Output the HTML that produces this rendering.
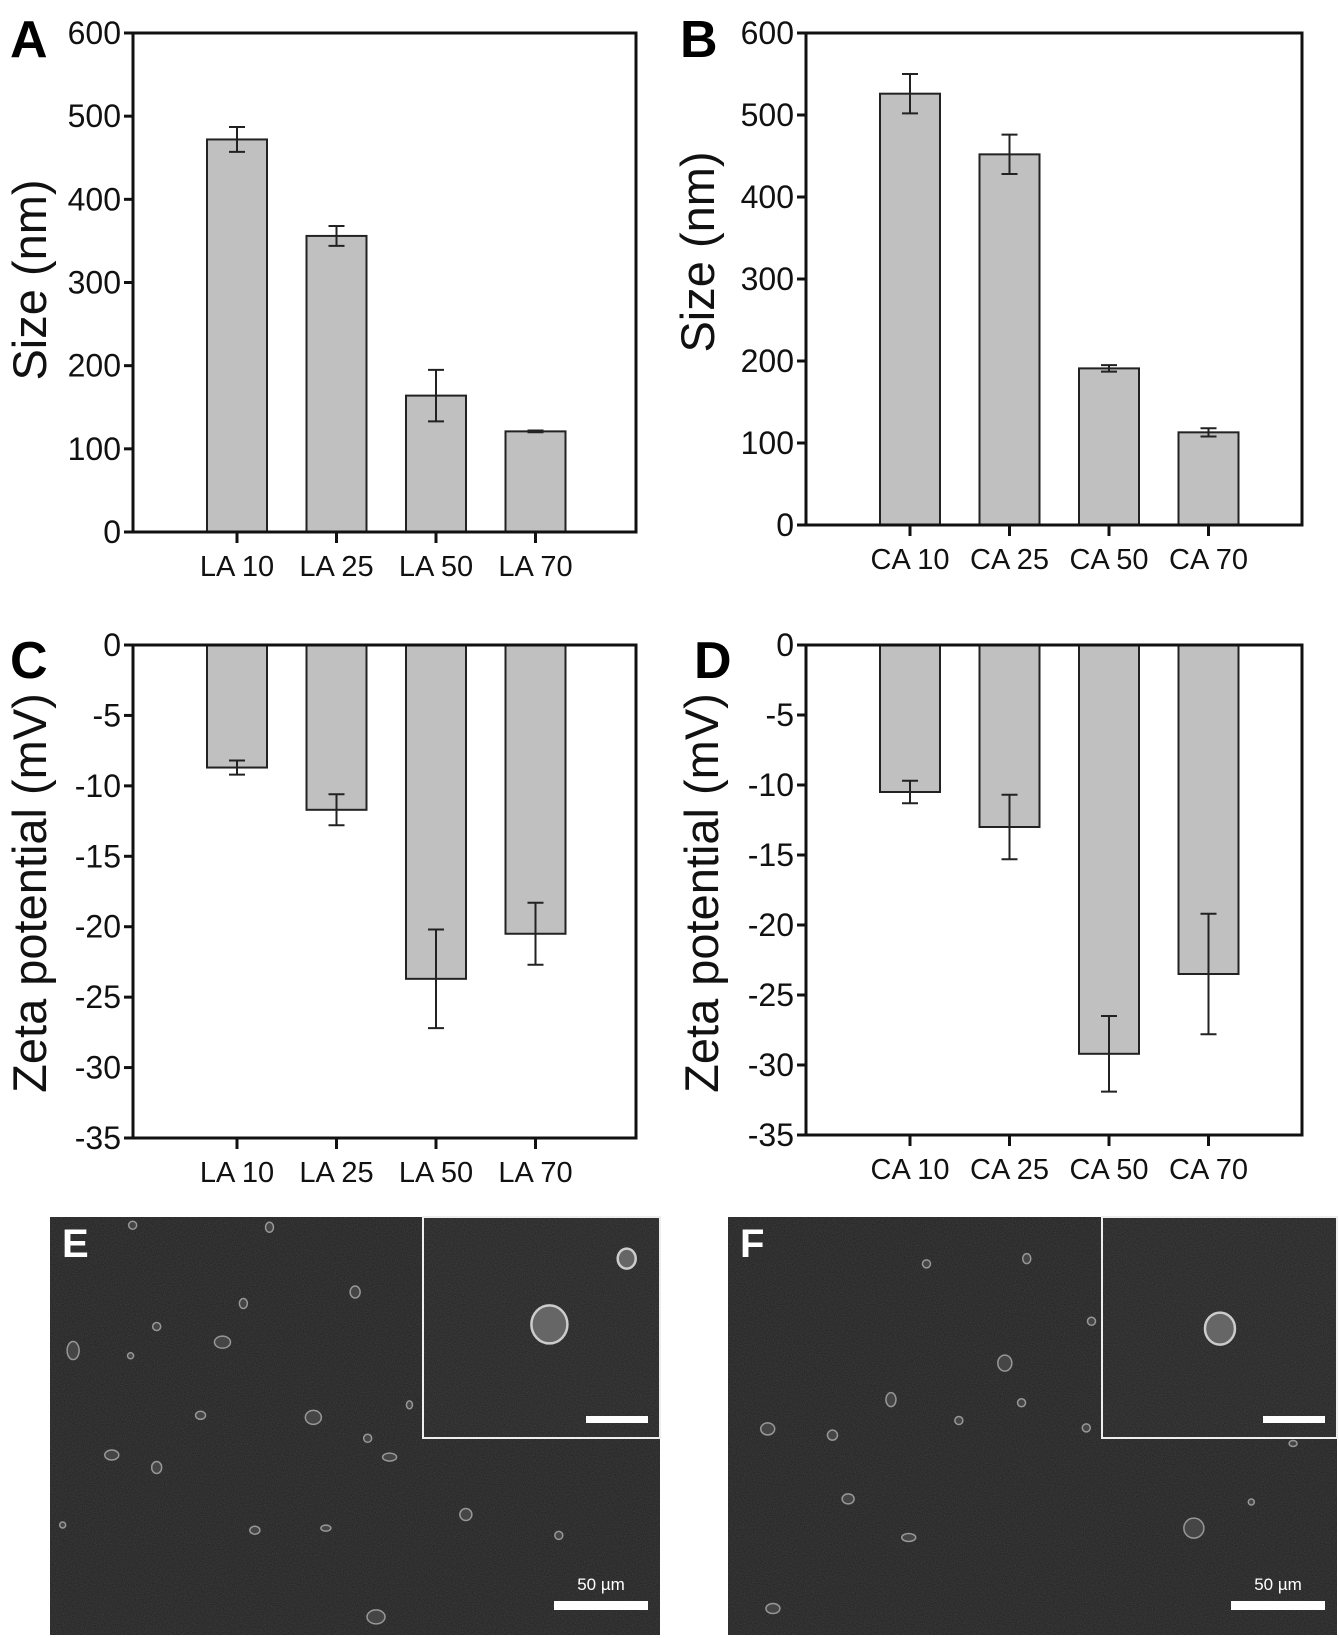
<!DOCTYPE html>
<html><head><meta charset="utf-8"><style>
html,body{margin:0;padding:0;background:#fff;}
svg{display:block;font-family:"Liberation Sans",Arial,sans-serif;}
</style></head><body>
<svg id="fig" width="1339" height="1638" viewBox="0 0 1339 1638" xmlns="http://www.w3.org/2000/svg">
<defs>
<filter id="noise" x="0" y="0" width="100%" height="100%">
<feTurbulence type="fractalNoise" baseFrequency="0.9" numOctaves="2" seed="3" result="n"/>
<feColorMatrix type="matrix" values="0 0 0 0 0.22  0 0 0 0 0.22  0 0 0 0 0.22  0 0 0 0.35 0"/>
</filter>
</defs>
<g id="charts"></g>
<g id="sem"></g>
</svg>
<script>
const NS='http://www.w3.org/2000/svg';
// ---- chart data ----
const catsA=['LA 10','LA 25','LA 50','LA 70'];
const sizeA=[472,356,164,121];
const sizeErrA=[15,12,31,1];
const catsB=['CA 10','CA 25','CA 50','CA 70'];
const sizeB=[526,452,191,113];
const sizeErrB=[24,24,4,5];
const zetaC=[-8.7,-11.7,-23.7,-20.5];
const zetaErrC=[0.5,1.1,3.5,2.2];
const zetaD=[-10.5,-13.0,-29.2,-23.5];
const zetaErrD=[0.8,2.3,2.7,4.3];
const sizeTicks=[0,100,200,300,400,500,600];
const zetaTicks=[0,-5,-10,-15,-20,-25,-30,-35];

function mk(tag,attrs,parent){const e=document.createElementNS(NS,tag);for(const k in attrs)e.setAttribute(k,attrs[k]);parent.appendChild(e);return e;}

function chart(p){
  const g=mk('g',{},document.getElementById('charts'));
  
  
  const yScale=v=>p.bottom+(v-p.ymin)/(p.ymax-p.ymin)*(p.top-p.bottom);
  const xScale=i=>p.left+104+i*99.5;
  p.vals.forEach((v,i)=>{
    const cx=xScale(i),y0=yScale(p.base),y1=yScale(v);
    const r=mk('rect',{x:cx-30,y:Math.min(y0,y1),width:60,height:Math.abs(y1-y0),fill:'#c0c0c0',stroke:'#222','stroke-width':2},g);
    
    
    const e=p.errs[i],ya=yScale(v+e),yb=yScale(v-e);
    const eb=mk('path',{d:`M${cx},${ya}V${yb}M${cx-8},${ya}H${cx+8}M${cx-8},${yb}H${cx+8}`,stroke:'#222','stroke-width':2,fill:'none'},g);
    
    
  });
  const fr=mk('rect',{x:p.left,y:p.top,width:p.right-p.left,height:p.bottom-p.top,fill:'none',stroke:'#111','stroke-width':3},g);
  
  
  p.ticks.forEach(t=>{
    const y=yScale(t);
    mk('line',{x1:p.left-9,x2:p.left,y1:y,y2:y,stroke:'#111','stroke-width':3},g);
    const tx=mk('text',{x:p.left-12,y:y+11,'text-anchor':'end','font-size':32,fill:'#111'},g);
    tx.textContent=String(t);
    
    
  });
  p.cats.forEach((c,i)=>{
    const x=xScale(i);
    mk('line',{x1:x,x2:x,y1:p.bottom,y2:p.bottom+11,stroke:'#111','stroke-width':3},g);
    const tx=mk('text',{x:x,y:p.bottom+44,'text-anchor':'middle','font-size':29,fill:'#111'},g);
    tx.textContent=c;
    
    
  });
  const yt=mk('text',{x:0,y:0,'text-anchor':'middle','font-size':47,fill:'#111',transform:`translate(${p.tx},${p.ty}) rotate(-90)`},g);
  yt.textContent=p.title;
  
  
  const lt=mk('text',{x:p.lx,y:p.ly,'font-size':52,'font-weight':'bold',fill:'#000'},g);
  lt.textContent=p.letter;
  
  
}
chart({name:'chart-a-size-la',cats:catsA,vals:sizeA,errs:sizeErrA,ticks:sizeTicks,ymin:0,ymax:600,base:0,left:133,right:636,top:33,bottom:532,title:'Size (nm)',tx:46,ty:280,letter:'A',lx:10,ly:57});
chart({name:'chart-b-size-ca',cats:catsB,vals:sizeB,errs:sizeErrB,ticks:sizeTicks,ymin:0,ymax:600,base:0,left:806,right:1302,top:33,bottom:525,title:'Size (nm)',tx:714,ty:252,letter:'B',lx:680,ly:57});
chart({name:'chart-c-zeta-la',cats:catsA,vals:zetaC,errs:zetaErrC,ticks:zetaTicks,ymin:-35,ymax:0,base:0,left:133,right:636,top:645,bottom:1138,title:'Zeta potential (mV)',tx:46,ty:893,letter:'C',lx:10,ly:678});
chart({name:'chart-d-zeta-ca',cats:catsB,vals:zetaD,errs:zetaErrD,ticks:zetaTicks,ymin:-35,ymax:0,base:0,left:806,right:1302,top:645,bottom:1135,title:'Zeta potential (mV)',tx:718,ty:893,letter:'D',lx:694,ly:678});

// ---- SEM images ----
const sem=document.getElementById('sem');
const S=1.0445;
function semPanel(name,x,y,w,h,inset,parts,insetParts,letter){
  const g=mk('g',{},sem);
  
  
  mk('rect',{x,y,width:w,height:h,fill:'#1f1f1f'},g);
  mk('rect',{x,y,width:w,height:h,filter:'url(#noise)'},g);
  parts.forEach(q=>{mk('ellipse',{cx:q[0]*S,cy:q[1]*S,rx:q[2],ry:q[3],fill:'#4a4a4a',stroke:'#aaa','stroke-width':1.5,opacity:0.85},g);});
  const ins=mk('rect',{x:inset[0],y:inset[1],width:inset[2],height:inset[3],fill:'#212121',stroke:'#eee','stroke-width':2},g);
  
  
  mk('rect',{x:inset[0]+1,y:inset[1]+1,width:inset[2]-2,height:inset[3]-2,filter:'url(#noise)'},g);
  insetParts.forEach(q=>{mk('ellipse',{cx:q[0]*S,cy:q[1]*S,rx:q[2],ry:q[3],fill:'#666',stroke:'#ccc','stroke-width':2.5},g);});
  mk('rect',{x:inset[0]+inset[2]-74,y:inset[1]+inset[3]-22,width:62,height:7,fill:'#fff'},g);
  mk('rect',{x:x+w-106,y:y+h-34,width:94,height:9,fill:'#fff'},g);
  const t=mk('text',{x:x+w-59,y:y+h-45,'text-anchor':'middle','font-size':17,fill:'#fff'},g);
  t.textContent='50 µm';
  
  
  const l=mk('text',{x:x+12,y:y+40,'font-size':40,'font-weight':'bold',fill:'#fff'},g);
  l.textContent=letter;
  
  
}
semPanel('sem-image-e',50,1217,610,418,[423,1217,237,221],
 [[70,1293,6,9],[213,1285,8,6],[300,1357,8,7],[107,1393,7,5],[150,1405,5,6],[373,1395,7,4],[446,1450,6,6],[244,1465,5,4],[312,1463,5,3],[360,1548,9,7],[192,1355,5,4],[233,1248,4,5],[340,1237,5,6],[535,1470,4,4],[60,1460,3,3],[127,1173,4,4],[258,1175,4,5],[352,1377,4,4],[392,1345,3,4],[150,1270,4,4],[125,1298,3,3]],
 [[526,1268,18,19],[600,1205,9,10]],'E');
semPanel('sem-image-f',728,1217,609,418,[1102,1217,235,221],
 [[962,1305,7,8],[735,1368,7,6],[853,1340,5,7],[812,1435,6,5],[870,1472,7,4],[797,1374,5,5],[1143,1463,10,10],[1198,1438,3,3],[740,1540,7,5],[887,1210,4,4],[983,1205,4,5],[1045,1265,4,4],[1040,1367,4,4],[1098,1342,4,4],[978,1343,4,4],[918,1360,4,4],[1238,1382,4,3]],
 [[1168,1272,15,16]],'F');
</script>
</body></html>
